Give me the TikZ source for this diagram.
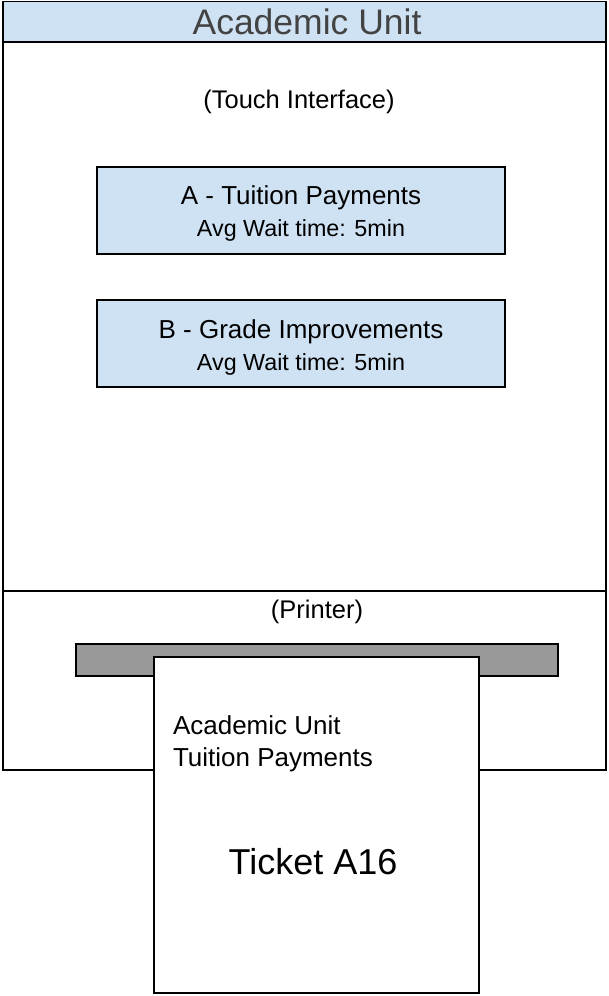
\documentclass[tikz,border=0pt]{standalone}
\usepackage{fontspec}
\setmainfont{Liberation Sans}
\definecolor{lightblue}{HTML}{CFE2F3}
\definecolor{slotgray}{HTML}{999999}
\definecolor{titlegray}{HTML}{434343}
\tikzset{
  frame/.style={draw=black, line width=1.8pt, inner sep=0pt, outer sep=0pt},
  option/.style={frame, fill=lightblue, minimum width=408pt, minimum height=87pt},
  optiontext/.style={inner sep=0pt, outer sep=0pt, align=center, font=\fontsize{26}{32}\selectfont},
  plain/.style={inner sep=0pt, outer sep=0pt},
}
\newcommand{\waitline}[1]{{\fontsize{23.3}{32}\selectfont #1}}
\begin{document}
\begin{tikzpicture}[x=1pt, y=-1pt]
\useasboundingbox (0,0) rectangle (608,996);
% title bar
\node[frame, fill=lightblue, minimum width=603pt, minimum height=40.5pt] (title) at (304.5,21.75) {};
\node[plain, text=titlegray, font=\fontsize{35.5}{40}\selectfont] (titletext) at (307,22) {Academic Unit};
% touch interface area
\node[frame, minimum width=603pt, minimum height=549pt] (touch) at (304.5,317) {};
\node[plain, font=\fontsize{25.5}{32}\selectfont] (touchlabel) at (299,102) {(Touch Interface)};
% options
\node[option] (optA) at (301,210.5) {};
\node[optiontext] (optAtext) at (301,213.5) {A - Tuition Payments\\\waitline{Avg Wait time: 5min}};
\node[option] (optB) at (301,343.5) {};
\node[optiontext] (optBtext) at (301,347) {B - Grade Improvements\\\waitline{Avg Wait time: 5min}};
% printer area
\node[frame, minimum width=603pt, minimum height=179pt] (printer) at (304.5,680.5) {};
\node[plain, font=\fontsize{25.5}{32}\selectfont] (printerlabel) at (317,612) {(Printer)};
% slot
\node[frame, fill=slotgray, minimum width=482pt, minimum height=32pt] (slot) at (317,660) {};
% ticket
\node[frame, fill=white, minimum width=325pt, minimum height=336pt] (ticket) at (316.75,825) {};
\node[plain, anchor=west, align=left, font=\fontsize{26}{32}\selectfont] (tickethead) at (173,744) {Academic Unit\\Tuition Payments};
\node[plain, font=\fontsize{36}{40}\selectfont] (ticketno) at (313,862) {Ticket A16};
\end{tikzpicture}
\end{document}
